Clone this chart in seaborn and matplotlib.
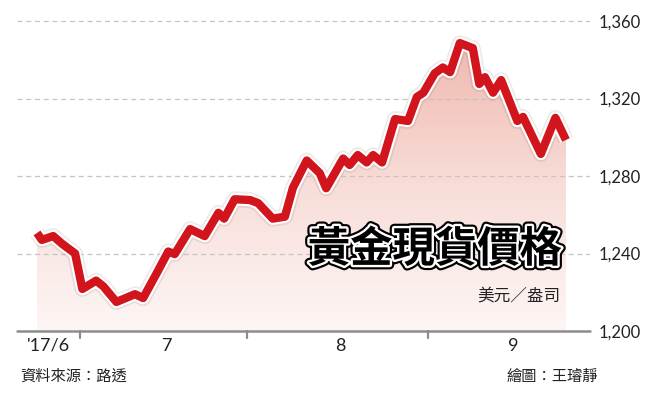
import numpy as np
import pandas as pd
import matplotlib
matplotlib.use("Agg")
import matplotlib.pyplot as plt
import matplotlib.patheffects as pe
from matplotlib.colors import LinearSegmentedColormap
import seaborn as sns

# ---- data ----
days = [0, 0.6, 2.0, 3.1, 4.7, 5.6, 7.3, 8.2, 9.8, 12.1, 13.1, 14.8, 16.2, 17.0,
        18.9, 20.7, 22.4, 23.1, 24.4, 26.3, 27.3, 29.1, 30.6, 31.6, 33.3, 34.9,
        35.7, 37.8, 38.6, 39.6, 40.7, 41.5, 42.6, 44.2, 45.8, 46.9, 47.7, 49.1,
        50.1, 51.0, 52.2, 53.8, 54.6, 55.3, 56.3, 57.3, 59.3, 60.0, 62.2, 64.0, 65.3]
price = [1250.6, 1247, 1249, 1245, 1240, 1221.7, 1226, 1223, 1215, 1219, 1217, 1230,
         1241, 1239.7, 1252.6, 1249, 1261, 1258, 1268, 1267.6, 1266, 1258, 1259,
         1274, 1288, 1281.5, 1273.7, 1289, 1285.7, 1290.8, 1287, 1290.8, 1287,
         1309.4, 1308.4, 1320.8, 1323, 1333, 1336, 1333.6, 1348.6, 1346, 1327.5,
         1331, 1323, 1329.5, 1308.4, 1310.5, 1291.4, 1310, 1298.6]
month_labels = ["'17/6", "7", "8", "9"]
month_label_pos = [1.4, 16.05, 37.4, 58.8]
month_tick_pos = [5.31, 25.93, 48.27]
y_ticks = [1200, 1240, 1280, 1320, 1360]
y_tick_labels = ["1,200", "1,240", "1,280", "1,320", "1,360"]
title = "黃金現貨價格"
unit = "美元／盎司"
source = "資料來源：路透"
credit = "繪圖：王璿靜"

df = pd.DataFrame({"day": days, "price": price})

sns.set_theme(style="white")
plt.rcParams["font.family"] = ["Lato", "Noto Sans CJK TC", "DejaVu Sans"]

fig = plt.figure(figsize=(6.56, 3.94), dpi=100)
ax = fig.add_axes([17 / 656, 1 - 331 / 394, (590 - 17) / 656, (331 - 10) / 394])
xmin, xmax = -2.47, 68.27
ymin, ymax = 1200, 1200 + (331 - 10) / 1.9375
ax.set_xlim(xmin, xmax)
ax.set_ylim(ymin, ymax)

# gradient fill under the line
poly = ax.fill_between(df["day"], df["price"], ymin, color="none", lw=0, zorder=2)
cmap = LinearSegmentedColormap.from_list("pk", ["#fdf6f5", "#f8ddd8", "#f0b8af"])
grad = np.linspace(0, 1, 256).reshape(-1, 1)
im = ax.imshow(grad, extent=[xmin, xmax, ymin, 1350], origin="lower",
               aspect="auto", cmap=cmap, zorder=2)
path = poly.get_paths()[0]
im.set_clip_path(path, transform=ax.transData)

# gridlines
for v in y_ticks[1:]:
    ax.axhline(v, color="#c4c4c4", lw=0.9, ls=(0, (4, 3)), zorder=3)

# line
sns.lineplot(data=df, x="day", y="price", ax=ax, color="#d2151c", lw=6.0,
             zorder=5, solid_joinstyle="round", solid_capstyle="butt")
line = ax.lines[-1]
line.set_path_effects([
    pe.Stroke(linewidth=11.5, foreground="#000000", alpha=0.08),
    pe.Stroke(linewidth=9.0, foreground="white"),
    pe.Normal(),
])

# axis line at bottom
ax.axhline(ymin, color="#8c8c8c", lw=1.8, zorder=6, clip_on=False)
for t in month_tick_pos:
    ax.plot([t, t], [ymin, ymin - 3.5], color="#8c8c8c", lw=1.6,
            clip_on=False, zorder=6)

for s in ax.spines.values():
    s.set_visible(False)
ax.set_xlabel("")
ax.set_ylabel("")
ax.set_xticks(month_label_pos)
ax.set_xticklabels(month_labels, fontsize=13, color="#222222")
ax.tick_params(axis="x", length=0, pad=5)
ax.yaxis.tick_right()
ax.set_yticks(y_ticks)
ax.set_yticklabels(y_tick_labels, fontsize=12, color="#222222")
ax.tick_params(axis="y", length=0, pad=6)
ax.grid(False)

# title and texts
fig.text(562 / 656, 1 - 250 / 394, title, ha="right", va="center",
         fontsize=30.5, fontweight="black", color="black",
         family=["Noto Sans CJK TC"],
         path_effects=[pe.Stroke(linewidth=6.5, foreground="black"),
                       pe.Stroke(linewidth=3.4, foreground="white"),
                       pe.Normal()], zorder=10)
fig.text(560 / 656, 1 - 297 / 394, unit, ha="right", va="center",
         fontsize=12, color="#222222", family=["Noto Sans CJK TC"])
fig.text(20 / 656, 1 - 376 / 394, source, ha="left", va="center",
         fontsize=11, color="#222222", family=["Noto Sans CJK TC"])
fig.text(598 / 656, 1 - 376 / 394, credit, ha="right", va="center",
         fontsize=11, color="#222222", family=["Noto Sans CJK TC"])

fig.savefig("out.png", dpi=100)
